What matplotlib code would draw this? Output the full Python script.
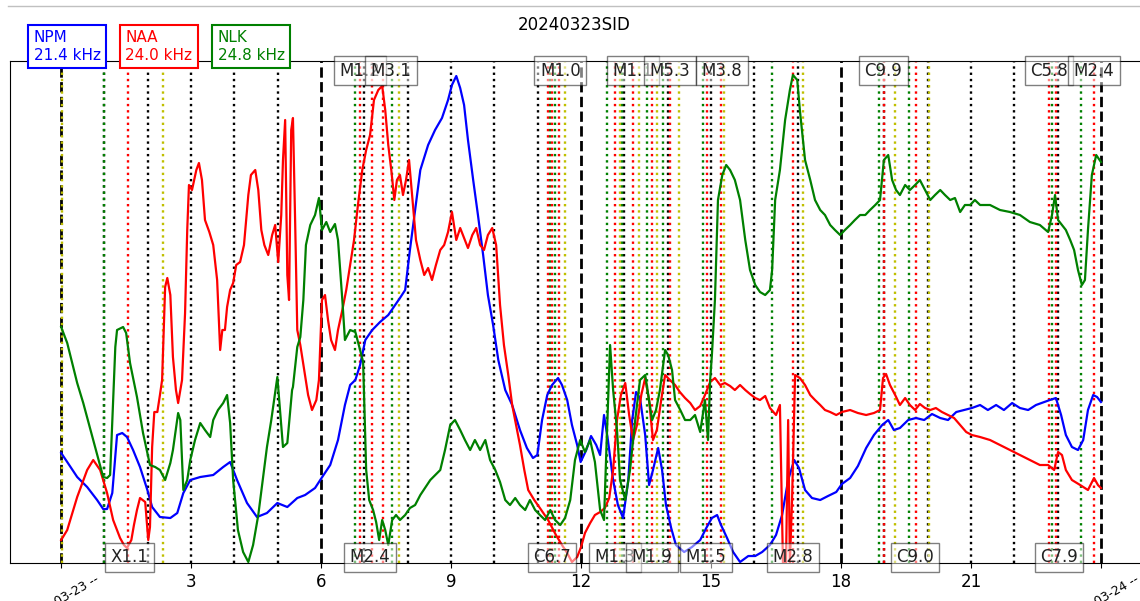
import matplotlib
matplotlib.use("Agg")
import matplotlib.pyplot as plt
from matplotlib.lines import Line2D

TITLE = "20240323SID"

STATIONS = ["NPM", "NAA", "NLK"]
FREQS_KHZ = [21.4, 24.0, 24.8]
COLORS = ["b", "r", "g"]

# time in UT hours, relative signal amplitude (%)
NPM_T = [0.00, 0.14, 0.37, 0.60, 0.83, 0.97, 1.06, 1.18, 1.29, 1.41,
         1.52, 1.66, 1.82, 1.99, 2.10, 2.28, 2.52, 2.68, 2.82, 2.98,
         3.21, 3.51, 3.74, 3.90, 4.06, 4.29, 4.52, 4.75, 4.99, 5.22,
         5.45, 5.63, 5.86, 5.98, 6.21, 6.39, 6.55, 6.67, 6.79, 6.90,
         7.02, 7.18, 7.36, 7.55, 7.71, 7.82, 7.94, 8.05, 8.17, 8.29,
         8.47, 8.63, 8.79, 8.93, 9.02, 9.12, 9.21, 9.30, 9.39, 9.51,
         9.62, 9.74, 9.85, 9.97, 10.09, 10.25, 10.41, 10.59, 10.75, 10.89,
         10.99, 11.10, 11.22, 11.33, 11.47, 11.56, 11.68, 11.79, 11.91, 11.99,
         12.12, 12.23, 12.35, 12.44, 12.53, 12.62, 12.74, 12.85, 12.97, 13.09,
         13.18, 13.27, 13.36, 13.48, 13.57, 13.66, 13.78, 13.87, 13.96, 14.08,
         14.19, 14.38, 14.56, 14.75, 14.89, 15.02, 15.14, 15.23, 15.37, 15.51,
         15.67, 15.86, 16.02, 16.18, 16.36, 16.50, 16.64, 16.78, 16.92, 17.03,
         17.17, 17.33, 17.52, 17.70, 17.89, 18.02, 18.21, 18.39, 18.58, 18.76,
         18.95, 19.09, 19.22, 19.36, 19.55, 19.73, 19.92, 20.10, 20.29, 20.47,
         20.66, 20.84, 21.02, 21.21, 21.39, 21.58, 21.76, 21.95, 22.13, 22.32,
         22.50, 22.69, 22.82, 22.96, 23.08, 23.19, 23.33, 23.47, 23.59, 23.70,
         23.82, 23.91, 24.00]
NPM_A = [22.0, 20.2, 17.2, 15.2, 12.6, 10.8, 10.8, 14.0, 25.6, 26.0,
         25.2, 22.6, 19.2, 14.6, 11.2, 9.2, 9.0, 10.0, 14.0, 16.6,
         17.2, 17.6, 19.2, 20.2, 16.6, 12.0, 9.2, 10.0, 12.0, 11.2,
         13.0, 13.6, 15.0, 16.6, 19.6, 24.6, 31.6, 35.6, 36.6, 39.6,
         44.6, 46.6, 48.2, 49.6, 51.6, 53.0, 54.6, 62.6, 70.6, 78.6,
         83.6, 86.6, 89.0, 92.6, 95.6, 97.4, 95.0, 91.6, 84.6, 76.6,
         69.6, 61.6, 53.6, 47.6, 40.6, 34.6, 31.6, 26.6, 23.0, 21.0,
         21.6, 28.6, 33.6, 35.6, 37.0, 35.6, 32.6, 27.6, 23.6, 20.2,
         22.6, 25.4, 23.6, 21.6, 29.6, 24.6, 16.6, 11.6, 9.0, 16.6,
         28.6, 34.2, 33.0, 25.6, 15.6, 18.6, 23.0, 18.6, 11.6, 7.0,
         3.6, 2.2, 3.2, 4.6, 7.0, 9.0, 9.6, 7.6, 5.0, 2.2,
         0.2, 1.4, 1.4, 2.2, 3.6, 5.6, 9.6, 16.6, 20.6, 19.0,
         14.6, 13.0, 12.6, 13.4, 14.2, 15.8, 17.0, 19.4, 23.0, 25.6,
         27.6, 28.6, 26.6, 27.0, 28.6, 29.0, 28.6, 29.8, 29.0, 28.6,
         30.2, 30.6, 31.0, 31.6, 30.6, 31.6, 30.6, 32.0, 31.0, 30.6,
         31.6, 32.2, 32.6, 33.0, 29.6, 25.6, 23.2, 22.6, 24.6, 30.6,
         33.6, 33.2, 32.2]

NAA_T = [0.00, 0.14, 0.37, 0.60, 0.74, 0.90, 1.06, 1.20, 1.36, 1.45,
         1.52, 1.62, 1.68, 1.75, 1.82, 1.94, 2.01, 2.05, 2.10, 2.15,
         2.22, 2.28, 2.33, 2.40, 2.45, 2.52, 2.58, 2.65, 2.70, 2.79,
         2.86, 2.91, 2.95, 3.02, 3.12, 3.18, 3.25, 3.32, 3.42, 3.51,
         3.60, 3.67, 3.72, 3.78, 3.83, 3.90, 3.97, 4.04, 4.13, 4.22,
         4.32, 4.38, 4.48, 4.55, 4.62, 4.69, 4.78, 4.87, 4.94, 5.01,
         5.08, 5.12, 5.17, 5.22, 5.26, 5.31, 5.35, 5.40, 5.45, 5.52,
         5.61, 5.70, 5.79, 5.89, 5.95, 6.02, 6.09, 6.16, 6.23, 6.32,
         6.39, 6.49, 6.58, 6.67, 6.76, 6.85, 6.95, 7.04, 7.13, 7.22,
         7.32, 7.41, 7.48, 7.55, 7.62, 7.69, 7.75, 7.82, 7.89, 7.96,
         8.03, 8.10, 8.19, 8.29, 8.38, 8.47, 8.56, 8.65, 8.75, 8.84,
         8.93, 9.02, 9.12, 9.21, 9.30, 9.39, 9.49, 9.58, 9.67, 9.76,
         9.85, 9.95, 10.04, 10.13, 10.22, 10.32, 10.41, 10.50, 10.59, 10.69,
         10.78, 10.92, 11.05, 11.24, 11.42, 11.56, 11.68, 11.79, 11.91, 12.00,
         12.09, 12.21, 12.32, 12.44, 12.55, 12.65, 12.74, 12.83, 12.92, 13.02,
         13.11, 13.20, 13.29, 13.39, 13.48, 13.57, 13.66, 13.75, 13.85, 13.94,
         14.05, 14.17, 14.28, 14.40, 14.52, 14.63, 14.75, 14.86, 14.98, 15.09,
         15.21, 15.32, 15.44, 15.55, 15.67, 15.79, 15.90, 16.02, 16.13, 16.25,
         16.36, 16.50, 16.59, 16.66, 16.73, 16.78, 16.82, 16.87, 16.94, 17.05,
         17.17, 17.29, 17.40, 17.52, 17.63, 17.75, 17.89, 18.02, 18.21, 18.39,
         18.58, 18.76, 18.90, 18.97, 19.04, 19.13, 19.25, 19.36, 19.48, 19.59,
         19.71, 19.82, 19.94, 20.06, 20.19, 20.33, 20.47, 20.61, 20.75, 20.89,
         21.02, 21.21, 21.44, 21.67, 21.90, 22.13, 22.36, 22.59, 22.78, 22.92,
         23.01, 23.10, 23.19, 23.33, 23.52, 23.70, 23.84, 23.93, 24.00]
NAA_A = [4.6, 6.6, 13.2, 18.6, 20.6, 18.6, 14.0, 8.6, 5.0, 3.6,
         3.0, 4.6, 7.6, 10.6, 13.0, 12.2, 4.6, 7.2, 23.2, 30.2,
         30.2, 33.6, 36.6, 55.2, 57.0, 53.6, 41.2, 34.6, 32.0, 36.6,
         50.0, 66.6, 75.6, 74.6, 78.6, 80.0, 76.6, 68.6, 66.2, 63.6,
         56.6, 42.6, 46.6, 46.6, 51.2, 54.6, 56.0, 59.6, 60.2, 63.6,
         73.6, 77.6, 78.6, 74.6, 66.6, 63.6, 61.6, 65.6, 67.6, 60.2,
         69.6, 80.6, 88.6, 57.6, 52.6, 86.6, 89.0, 68.6, 46.6, 43.6,
         38.6, 33.6, 30.6, 32.6, 36.6, 52.6, 53.6, 48.6, 44.6, 42.6,
         46.6, 50.6, 54.6, 59.6, 64.6, 71.6, 78.6, 82.6, 85.6, 92.6,
         94.6, 95.4, 90.6, 83.6, 78.6, 72.6, 76.6, 77.6, 73.6, 76.6,
         80.6, 73.6, 64.6, 60.6, 57.6, 59.0, 56.6, 59.6, 62.6, 63.6,
         66.2, 70.2, 64.6, 67.0, 65.0, 63.0, 65.6, 67.0, 63.6, 62.6,
         65.6, 67.0, 63.6, 51.6, 43.6, 37.6, 31.6, 27.6, 23.6, 18.6,
         14.6, 12.6, 11.0, 8.6, 5.6, 3.6, 2.0, 0.2, 1.2, 3.2,
         6.0, 8.0, 9.6, 10.2, 11.0, 13.0, 18.6, 28.6, 33.6, 36.0,
         29.6, 24.6, 27.6, 33.6, 37.0, 32.6, 24.6, 26.6, 32.6, 37.6,
         36.6, 35.6, 34.2, 33.0, 32.0, 30.6, 31.4, 33.6, 36.2, 37.0,
         35.6, 36.0, 35.4, 34.6, 35.6, 34.6, 33.8, 33.0, 32.6, 33.4,
         31.0, 29.6, 31.6, 0.0, 0.0, 28.6, 0.0, 12.6, 37.6, 37.0,
         35.6, 33.6, 32.6, 31.6, 30.6, 30.2, 29.6, 30.2, 30.6, 30.0,
         29.6, 30.0, 30.6, 37.0, 37.8, 35.6, 33.6, 31.6, 33.0, 31.6,
         30.6, 31.8, 31.0, 30.6, 31.0, 30.2, 29.6, 29.0, 27.6, 26.2,
         25.6, 25.2, 24.6, 23.6, 22.6, 21.6, 20.6, 19.6, 19.6, 18.6,
         22.2, 21.6, 18.6, 16.6, 15.6, 14.6, 17.0, 15.6, 15.0]

NLK_T = [0.00, 0.14, 0.37, 0.51, 0.74, 0.97, 1.06, 1.13, 1.25, 1.29,
         1.43, 1.50, 1.59, 1.75, 1.89, 2.05, 2.17, 2.28, 2.40, 2.52,
         2.58, 2.70, 2.75, 2.82, 2.91, 2.98, 3.09, 3.21, 3.32, 3.44,
         3.51, 3.62, 3.74, 3.83, 3.90, 3.97, 4.08, 4.20, 4.32, 4.43,
         4.55, 4.66, 4.75, 4.85, 4.99, 5.12, 5.22, 5.33, 5.35, 5.45,
         5.52, 5.59, 5.65, 5.75, 5.86, 5.95, 6.02, 6.12, 6.21, 6.32,
         6.39, 6.49, 6.55, 6.67, 6.79, 6.90, 6.97, 7.04, 7.11, 7.20,
         7.27, 7.34, 7.41, 7.48, 7.55, 7.64, 7.73, 7.82, 7.94, 8.05,
         8.17, 8.29, 8.52, 8.75, 8.86, 8.98, 9.09, 9.21, 9.32, 9.44,
         9.55, 9.67, 9.79, 9.90, 10.02, 10.13, 10.25, 10.36, 10.48, 10.59,
         10.71, 10.82, 10.94, 11.05, 11.17, 11.29, 11.40, 11.52, 11.63, 11.75,
         11.86, 11.98, 12.09, 12.21, 12.32, 12.44, 12.53, 12.60, 12.67, 12.74,
         12.83, 12.90, 13.02, 13.13, 13.25, 13.36, 13.48, 13.55, 13.64, 13.73,
         13.82, 13.94, 14.01, 14.10, 14.17, 14.29, 14.40, 14.52, 14.63, 14.75,
         14.86, 14.93, 14.98, 15.02, 15.09, 15.16, 15.26, 15.35, 15.44, 15.55,
         15.67, 15.79, 15.90, 16.02, 16.13, 16.25, 16.36, 16.41, 16.48, 16.59,
         16.71, 16.82, 16.89, 16.99, 17.05, 17.17, 17.29, 17.40, 17.52, 17.63,
         17.75, 17.86, 17.98, 18.09, 18.21, 18.32, 18.44, 18.56, 18.67, 18.79,
         18.90, 18.99, 19.09, 19.18, 19.27, 19.36, 19.48, 19.59, 19.71, 19.82,
         19.94, 20.06, 20.17, 20.29, 20.40, 20.52, 20.63, 20.75, 20.86, 20.98,
         21.09, 21.21, 21.44, 21.67, 21.90, 22.13, 22.36, 22.59, 22.78, 22.87,
         22.94, 23.01, 23.10, 23.19, 23.29, 23.38, 23.47, 23.56, 23.63, 23.70,
         23.79, 23.89, 24.00]
NLK_A = [47.2, 44.0, 36.0, 32.0, 24.6, 17.2, 17.0, 17.6, 43.2, 46.6,
         47.2, 46.0, 40.0, 33.2, 26.0, 19.6, 19.2, 18.6, 16.6, 20.0,
         22.6, 30.0, 28.6, 14.6, 16.6, 20.6, 24.6, 28.0, 26.6, 25.2,
         28.6, 30.6, 32.0, 33.6, 28.0, 16.6, 6.6, 2.2, 0.2, 3.6,
         9.6, 17.0, 23.2, 28.6, 37.2, 23.2, 24.0, 34.6, 35.2, 43.2,
         45.2, 52.6, 63.6, 67.6, 69.6, 73.0, 66.6, 68.2, 66.2, 67.8,
         64.6, 52.6, 44.6, 46.6, 46.2, 42.6, 40.2, 18.6, 12.6, 10.6,
         8.2, 4.6, 8.6, 6.6, 3.6, 8.6, 9.6, 8.6, 9.6, 11.0,
         11.6, 13.6, 16.6, 18.6, 22.6, 27.6, 28.6, 26.6, 24.6, 22.6,
         24.6, 22.6, 24.6, 20.6, 18.6, 16.2, 12.6, 11.6, 13.0, 11.6,
         10.6, 12.6, 10.6, 9.6, 8.6, 10.6, 8.6, 7.6, 9.0, 12.6,
         20.6, 24.6, 22.2, 24.6, 20.2, 10.6, 8.6, 26.6, 43.6, 34.6,
         26.6, 16.6, 12.6, 18.6, 28.6, 36.6, 37.6, 33.6, 28.6, 30.6,
         34.6, 42.6, 41.6, 38.6, 32.6, 30.6, 28.6, 28.6, 29.6, 26.2,
         32.6, 24.6, 36.6, 41.6, 52.6, 72.6, 77.6, 79.6, 78.6, 76.6,
         72.6, 64.6, 58.6, 55.6, 54.2, 53.6, 54.6, 58.6, 72.6, 78.6,
         88.6, 94.6, 97.6, 96.6, 90.6, 80.6, 76.6, 72.6, 70.6, 69.6,
         67.6, 66.6, 65.6, 66.6, 67.6, 68.6, 69.6, 69.6, 70.6, 71.6,
         72.6, 80.6, 81.6, 76.6, 74.6, 73.6, 75.6, 74.6, 75.6, 76.6,
         74.6, 72.6, 73.6, 74.6, 73.6, 72.6, 73.0, 70.2, 71.6, 71.6,
         72.6, 71.6, 71.6, 70.6, 70.2, 69.6, 68.2, 67.6, 66.2, 69.6,
         73.6, 68.6, 67.6, 66.6, 64.6, 62.6, 58.6, 55.6, 56.6, 66.6,
         77.6, 81.6, 80.2]

# GOES flare times (UT hours): start / peak / end
FLARE_START = [0.98, 6.79, 7.63, 11.28, 11.40, 12.60, 12.95, 13.52, 13.89,
               14.82, 16.41, 18.88, 19.57, 22.87, 23.54]
FLARE_PEAK = [1.55, 6.90, 7.17, 7.43, 11.24, 11.33, 11.49, 12.79, 13.20,
              13.63, 14.05, 14.91, 15.23, 16.89, 18.99, 19.73, 22.80, 22.96,
              23.84]
FLARE_END = [0.02, 2.35, 7.80, 11.63, 12.90, 13.34, 13.75, 14.26, 15.30,
             17.12, 19.25, 20.03]

FLARE_CLASS = ["X1.1", "M1.2", "M2.4", "M3.1", "C6.7", "M1.0", "M1.3",
               "M1.1", "M1.9", "M5.3", "M1.5", "M3.8", "M2.8", "C9.9",
               "C9.0", "C5.8", "C7.9", "M2.4"]
FLARE_CLASS_T = [1.57, 6.90, 7.13, 7.62, 11.33, 11.52, 12.79, 13.20, 13.63,
                 14.05, 14.88, 15.25, 16.89, 18.98, 19.71, 22.80, 23.03, 23.84]

DATE_START = "2024-03-23 --"
DATE_END = "2024-03-24 --"


def plot_sid(save_path):
    fig = plt.figure(figsize=(11.4, 6.01), dpi=100)
    ax = fig.add_axes([0.0088, 0.0632, 1.0018, 0.8353])

    # hour grid, dashed every 6 h
    for h in range(25):
        if h % 6 == 0:
            ax.axvline(h, color="k", ls="--", lw=2, zorder=1)
        else:
            ax.axvline(h, color="k", ls=":", lw=1.7, zorder=1)

    for t in FLARE_START:
        ax.axvline(t, color="g", ls=":", lw=1.7, zorder=1)
    for t in FLARE_PEAK:
        ax.axvline(t, color="r", ls=":", lw=1.7, zorder=1)
    for t in FLARE_END:
        ax.axvline(t, color="y", ls=":", lw=1.7, zorder=1)

    ax.plot(NPM_T, NPM_A, color=COLORS[0], lw=1.6, zorder=3)
    ax.plot(NAA_T, NAA_A, color=COLORS[1], lw=1.6, zorder=3)
    ax.plot(NLK_T, NLK_A, color=COLORS[2], lw=1.6, zorder=3)

    # flare classes alternate bottom / top
    trans = ax.get_xaxis_transform()
    for i, (label, t) in enumerate(zip(FLARE_CLASS, FLARE_CLASS_T)):
        y = 0.011 if i % 2 == 0 else 0.981
        ax.text(t, y, label, transform=trans, ha="center", va="center",
                fontsize=12, color="#222222", zorder=5, clip_on=False,
                bbox=dict(facecolor="white", alpha=0.5))

    ax.set_xlim(-1.18, 25.18)
    ax.set_ylim(0, 100.4)
    ax.set_yticks([])
    ticks = list(range(0, 25, 3))
    labels = [str(h) for h in ticks]
    labels[0] = DATE_START
    labels[-1] = DATE_END
    ax.set_xticks(ticks)
    ax.set_xticklabels(labels, fontsize=12)
    for lab in (ax.get_xticklabels()[0], ax.get_xticklabels()[-1]):
        lab.set_rotation(30)
        lab.set_fontsize(9)
        lab.set_ha("center")

    # station boxes
    xs = [0.0294, 0.110, 0.1909]
    for x, name, f, c in zip(xs, STATIONS, FREQS_KHZ, COLORS):
        fig.text(x, 0.9226, f"{name}\n{f:.1f} kHz", color=c, fontsize=11,
                 ha="left", va="center", zorder=10,
                 bbox=dict(facecolor="white", edgecolor=c, lw=1.5))

    fig.text(0.504, 0.958, TITLE, fontsize=12, ha="center", va="center")
    fig.add_artist(Line2D([0.007, 1.0], [0.99, 0.99], transform=fig.transFigure,
                          color="#c0c0c0", lw=1))

    fig.savefig(save_path, dpi=100)
    plt.close(fig)


def main():
    plot_sid("out.png")


if __name__ == "__main__":
    main()
